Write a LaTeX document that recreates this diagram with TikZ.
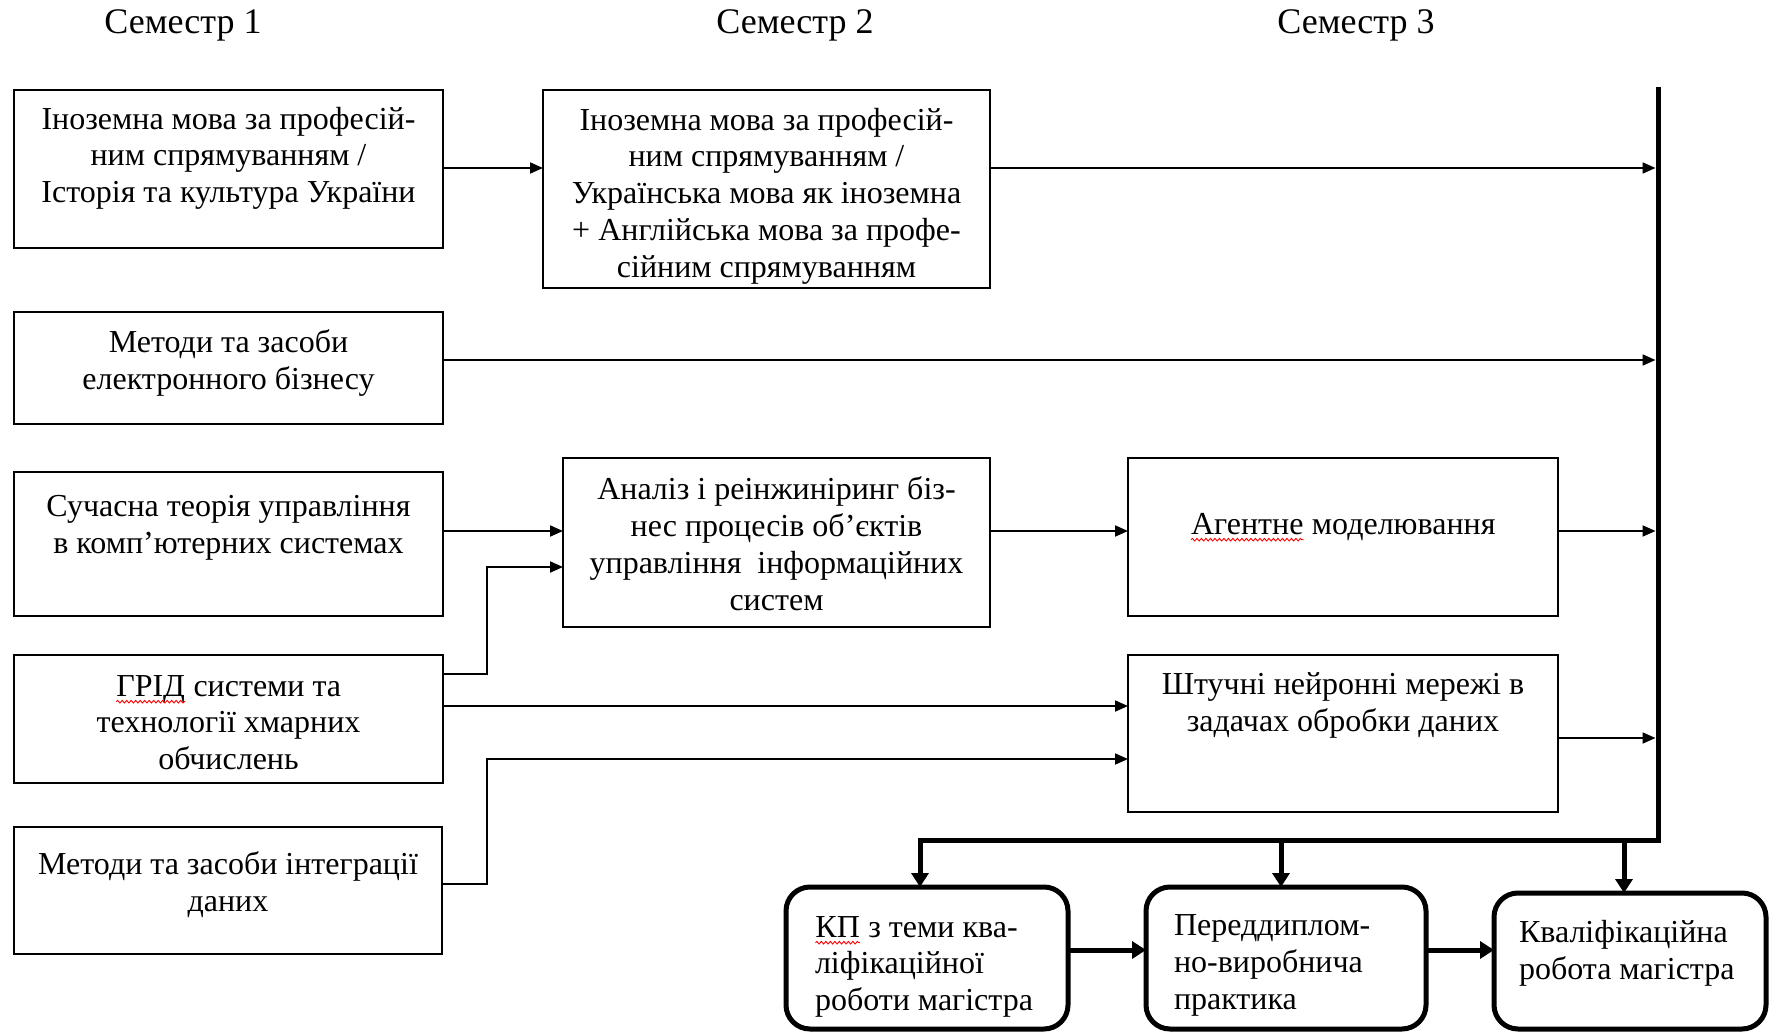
\documentclass[tikz,border=0pt]{standalone}
\usepackage{fontspec}
\setmainfont{Liberation Serif}
\usetikzlibrary{arrows.meta,decorations.pathmorphing,calc}
\tikzset{
  box/.style={draw=black, line width=1.8pt, inner sep=0pt, outer sep=0pt, rectangle},
  rbox/.style={draw=black, line width=5pt, rounded corners=24pt, inner sep=0pt, outer sep=0pt, rectangle},
  txt/.style={inner sep=0pt, outer sep=0pt, align=center, anchor=north, font=\fontsize{32}{36.7}\selectfont, execute at begin node=\strut},
  ltxt/.style={txt, align=left, anchor=north west},
  arr/.style={line width=1.8pt, -{Triangle[length=13pt,width=11pt]}},
  tarr/.style={line width=5pt, -{Triangle[length=14pt,width=17pt]}},
  bus/.style={line width=5pt, line cap=rect},
  sem/.style={font=\fontsize{36}{40}\selectfont, inner sep=0pt, anchor=base},
}
\newcommand\redwave[1]{\tikz[baseline=(w.base)]{\node[inner sep=0pt,outer sep=0pt,anchor=base,align=left,execute at begin node={}] (w) {#1};\draw[red, line width=0.9pt, decorate, decoration={snake, amplitude=1.3pt, segment length=4.5pt}] ([yshift=-5.5pt]w.base west) -- ([yshift=-5.5pt]w.base east);}}
\begin{document}
\begin{tikzpicture}[x=1pt,y=-1pt]
\useasboundingbox (0,0) rectangle (1769,1032);
% semester labels
\node[sem] (s1) at (183,34) {Семестр 1};
\node[sem] (s2) at (795,34) {Семестр 2};
\node[sem] (s3) at (1356,34) {Семестр 3};
% boxes
\node[box, minimum width=429pt, minimum height=158pt] (a1) at (228.5,169) {};
\node[box, minimum width=447pt, minimum height=198pt] (a2) at (766.5,189) {};
\node[box, minimum width=429pt, minimum height=112pt] (b1) at (228.5,368) {};
\node[box, minimum width=429pt, minimum height=144pt] (c1) at (228.5,544) {};
\node[box, minimum width=427pt, minimum height=169pt] (c2) at (776.5,542.5) {};
\node[box, minimum width=430pt, minimum height=158pt] (c3) at (1343,537) {};
\node[box, minimum width=429pt, minimum height=128pt] (d1) at (228.5,719) {};
\node[box, minimum width=430pt, minimum height=157pt] (d3) at (1343,733.5) {};
\node[box, minimum width=428pt, minimum height=127pt] (e1) at (228,890.5) {};
\node[rbox, minimum width=282pt, minimum height=142pt] (f1) at (927,958) {};
\node[rbox, minimum width=280pt, minimum height=142pt] (f2) at (1286,958) {};
\node[rbox, minimum width=272pt, minimum height=136pt] (f3) at (1630,961) {};
% texts
\node[txt] (a1t) at ([yshift=-17pt]a1.north) {Іноземна мова за професій-\\ним спрямуванням /\\Історія та культура України};
\node[txt] (a2t) at ([yshift=-18pt]a2.north) {Іноземна мова за професій-\\ним спрямуванням /\\Українська мова як іноземна\\+ Англійська мова за профе-\\сійним спрямуванням};
\node[txt] (b1t) at ([yshift=-17.5pt]b1.north) {Методи та засоби\\електронного бізнесу};
\node[txt] (c1t) at ([yshift=-23.5pt]c1.north) {Сучасна теорія управління\\в комп’ютерних системах};
\node[txt] (c2t) at ([yshift=-19pt]c2.north) {Аналіз і реінжиніринг біз-\\нес процесів об’єктів\\управління\ \ інформаційних\\систем};
\node[txt] (c3t) at ([yshift=-50.5pt]c3.north) {\redwave{Агентне} моделювання};
\node[txt] (d1t) at ([yshift=-15.5pt]d1.north) {\redwave{ГРІД} системи та\\технології хмарних\\обчислень};
\node[txt] (d3t) at ([yshift=-18pt]d3.north) {Штучні нейронні мережі в\\задачах обробки даних};
\node[txt] (e1t) at ([yshift=-24.5pt]e1.north) {Методи та засоби інтеграції\\даних};
\node[ltxt] (f1t) at ([xshift=29pt,yshift=-24.5pt]f1.north west) {\redwave{КП} з теми ква-\\ліфікаційної\\роботи магістра};
\node[ltxt] (f2t) at ([xshift=28pt,yshift=-28pt]f2.north west) {Переддиплом-\\но-виробнича\\практика};
\node[ltxt] (f3t) at ([xshift=25pt,yshift=-27.5pt]f3.north west) {Кваліфікаційна\\робота магістра};
% bus
\coordinate (bt) at (1658,90);
\coordinate (bb) at (1658,840);
\coordinate (j1) at (920,840);
\coordinate (j2) at (1281,840);
\coordinate (j3) at (1624,840);
\draw[bus] (bt) -- (bb) -- (j1);
\draw[tarr] (j1) -- (j1 |- f1.north);
\draw[tarr] (j2) -- (j2 |- f2.north);
\draw[tarr] (j3) -- (j3 |- f3.north);
% connectors
\draw[arr] ([yshift=-78pt]a1.north east) coordinate (p1) -- (p1 -| a2.west);
\draw[arr, shorten >=2.5pt] ([yshift=-78pt]a2.north east) coordinate (p2) -- (p2 -| bt);
\draw[arr, shorten >=2.5pt] ([yshift=-48pt]b1.north east) coordinate (p3) -- (p3 -| bt);
\draw[arr] ([yshift=-59pt]c1.north east) coordinate (p4) -- (p4 -| c2.west);
\draw[arr] ([yshift=-73pt]c2.north east) coordinate (p5) -- (p5 -| c3.west);
\draw[arr, shorten >=2.5pt] ([yshift=-73pt]c3.north east) coordinate (p6) -- (p6 -| bt);
\draw[arr] ([yshift=-19pt]d1.north east) -- ++(44,0) |- ([yshift=-109pt]c2.north west);
\draw[arr] ([yshift=-51pt]d1.north east) coordinate (p7) -- (p7 -| d3.west);
\draw[arr] ([yshift=-57pt]e1.north east) -- ++(45,0) |- ([yshift=-104pt]d3.north west);
\draw[arr, shorten >=2.5pt] ([yshift=-83pt]d3.north east) coordinate (p8) -- (p8 -| bt);
\draw[tarr] ([yshift=-63pt]f1.north east) coordinate (p9) -- (p9 -| f2.west);
\draw[tarr] ([yshift=-63pt]f2.north east) coordinate (p10) -- (p10 -| f3.west);
\end{tikzpicture}
\end{document}
